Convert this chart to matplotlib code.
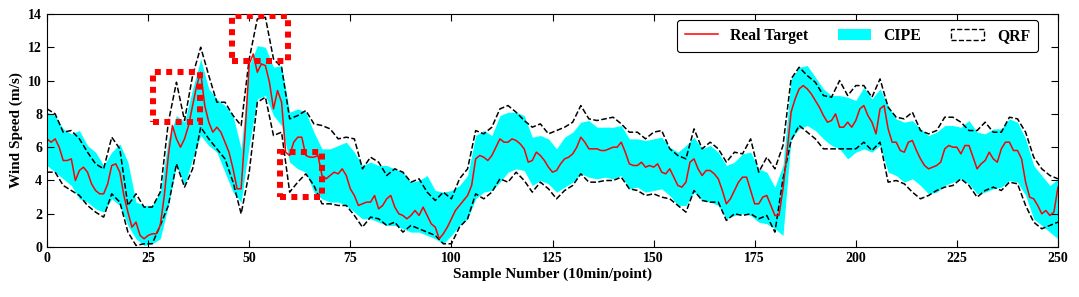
import matplotlib
matplotlib.use("Agg")
import matplotlib.pyplot as plt
from matplotlib.patches import Patch, Rectangle
from matplotlib.lines import Line2D
import numpy as np

plt.rcParams['font.family'] = ['Liberation Serif', 'DejaVu Serif']
plt.rcParams['font.weight'] = 'bold'

# real target, one value per sample (0..250)
real = [6.5, 6.3, 6.5, 6.0, 5.2, 5.2, 5.3, 4.0, 4.6, 4.8,
        4.5, 3.8, 3.4, 3.2, 3.2, 3.8, 4.9, 5.0, 4.5, 3.1,
        2.1, 1.2, 1.5, 0.7, 0.5, 0.7, 0.8, 0.8, 1.3, 3.1,
        5.5, 7.3, 6.5, 6.0, 6.5, 7.3, 8.5, 9.7, 10.5, 8.5,
        7.5, 6.9, 7.2, 6.9, 6.3, 5.7, 4.7, 3.5, 3.5, 7.0,
        11.0, 11.6, 10.5, 11.0, 10.9, 9.9, 8.3, 9.4, 8.7, 5.7,
        5.5, 6.3, 6.6, 6.6, 5.5, 5.4, 5.4, 5.5, 4.3, 4.1,
        4.3, 4.5, 4.4, 4.7, 4.3, 3.5, 3.1, 2.5, 2.6, 2.7,
        2.7, 3.1, 2.3, 2.5, 2.9, 3.1, 2.4, 2.0, 1.9, 1.7,
        1.9, 2.2, 1.9, 2.4, 1.9, 1.4, 1.2, 0.5, 0.8, 1.2,
        1.7, 2.2, 2.5, 2.8, 3.1, 3.7, 5.3, 5.5, 5.4, 5.2,
        5.5, 6.0, 6.5, 6.3, 6.3, 6.5, 6.4, 6.2, 5.9, 5.1,
        5.2, 5.7, 5.5, 5.2, 4.8, 4.5, 4.6, 5.0, 5.3, 5.4,
        5.6, 6.0, 6.6, 6.3, 5.9, 5.9, 5.9, 5.8, 5.8, 5.9,
        6.0, 6.0, 6.3, 5.7, 5.0, 4.9, 4.9, 5.1, 4.8, 4.9,
        4.8, 5.0, 4.5, 4.4, 4.7, 4.2, 3.7, 3.6, 3.9, 5.1,
        5.3, 4.7, 4.3, 4.6, 4.6, 4.4, 4.1, 3.4, 2.6, 2.9,
        3.4, 3.9, 4.2, 4.2, 3.4, 2.6, 2.6, 3.0, 3.1, 2.5,
        1.9, 1.9, 3.5, 5.7, 8.1, 8.9, 9.5, 9.7, 9.5, 9.2,
        8.8, 8.4, 7.9, 7.5, 7.6, 8.0, 7.2, 7.2, 7.5, 7.2,
        7.6, 8.3, 8.5, 7.9, 7.5, 6.8, 8.3, 8.5, 7.1, 6.3,
        6.3, 5.8, 5.7, 6.3, 6.4, 5.8, 5.3, 4.9, 4.7, 4.8,
        4.9, 5.1, 5.9, 6.1, 6.0, 6.0, 5.6, 6.1, 6.1, 5.4,
        4.7, 5.0, 5.2, 5.7, 5.3, 5.1, 5.9, 6.3, 6.3, 5.8,
        5.8, 5.3, 3.9, 3.0, 2.9, 2.5, 2.0, 2.2, 1.9, 2.1,
        3.6]

# interval bounds, read every 2nd sample (0, 2, ..., 250)
cipe_hi = [8.1, 7.9, 7.1, 6.8, 7.0, 6.1, 5.7, 4.9, 5.7, 6.2,
           5.1, 2.7, 2.5, 2.5, 3.3, 6.5, 7.9, 7.5, 9.5, 11.3,
           9.5, 8.9, 8.5, 7.9, 5.9, 10.9, 12.1, 12.0, 10.8, 10.9,
           8.1, 8.3, 8.1, 6.9, 5.9, 5.9, 6.1, 6.3, 5.7, 4.9,
           5.1, 4.9, 4.9, 4.7, 4.5, 3.9, 4.0, 4.3, 3.4, 3.3,
           3.4, 3.7, 4.3, 6.7, 7.0, 6.7, 7.9, 8.1, 8.1, 7.9,
           6.6, 6.7, 6.5, 5.9, 6.6, 6.9, 7.5, 7.6, 7.2, 7.2,
           7.2, 7.3, 6.5, 6.5, 6.4, 6.5, 6.6, 6.0, 5.7, 6.1,
           6.6, 5.9, 6.1, 5.7, 4.9, 5.1, 5.6, 5.7, 4.7, 4.5,
           3.6, 4.9, 10.1, 10.8, 10.9, 10.2, 9.5, 9.1, 9.1, 9.0,
           8.8, 9.6, 8.9, 9.5, 8.5, 7.7, 7.5, 7.6, 7.1, 6.7,
           6.9, 7.3, 7.3, 7.2, 7.6, 6.9, 6.8, 7.1, 7.1, 7.7,
           7.5, 6.5, 4.9, 4.3, 3.7, 4.1]
cipe_lo = [4.9, 4.5, 4.1, 3.7, 2.9, 2.7, 2.3, 2.1, 2.9, 2.5,
           1.3, 0.5, 0.1, 0.2, 0.5, 2.5, 4.9, 3.7, 5.3, 6.7,
           6.1, 5.7, 4.5, 3.3, 2.7, 6.1, 8.9, 9.1, 7.9, 7.3,
           5.1, 4.7, 4.5, 3.3, 2.9, 2.7, 2.7, 2.5, 2.1, 1.7,
           1.7, 1.5, 1.3, 1.3, 1.1, 0.9, 0.9, 0.7, 0.5, 0.2,
           0.7, 1.3, 1.7, 2.9, 3.3, 3.4, 3.9, 4.5, 4.7, 4.6,
           3.7, 4.0, 3.8, 3.3, 3.6, 3.9, 4.4, 4.2, 4.1, 4.2,
           4.1, 4.3, 3.5, 3.6, 3.3, 3.4, 3.5, 3.1, 2.5, 2.5,
           3.3, 2.8, 2.7, 2.5, 1.7, 1.9, 2.0, 1.9, 1.5, 1.4,
           1.1, 0.7, 6.5, 7.1, 7.3, 7.0, 6.5, 6.1, 5.9, 5.3,
           5.7, 5.9, 5.7, 6.1, 4.5, 4.3, 3.9, 4.1, 3.7, 3.2,
           3.3, 3.7, 3.9, 4.1, 3.8, 3.2, 3.3, 3.5, 3.6, 4.0,
           3.9, 3.1, 1.7, 1.3, 0.9, 0.5]
qrf_hi = [8.3, 8.0, 6.9, 7.0, 6.5, 5.7, 5.0, 4.7, 6.6, 5.9,
          2.5, 3.2, 2.4, 2.4, 3.3, 7.5, 9.9, 7.6, 10.3, 12.0,
          10.3, 8.7, 8.7, 7.9, 7.3, 11.3, 13.7, 13.8, 11.3, 10.8,
          7.7, 7.9, 8.2, 7.4, 7.3, 7.1, 6.5, 6.6, 6.5, 4.7,
          5.4, 5.1, 4.3, 4.7, 4.5, 3.9, 4.1, 3.3, 2.8, 3.3,
          2.9, 4.1, 4.7, 7.0, 6.8, 7.2, 8.3, 8.5, 8.1, 7.6,
          7.2, 7.4, 6.8, 7.0, 7.2, 7.5, 8.5, 7.7, 7.6, 7.7,
          7.8, 7.4, 6.9, 6.9, 6.5, 6.9, 7.0, 5.9, 5.5, 5.3,
          7.1, 5.9, 6.3, 5.9, 5.1, 5.7, 5.6, 6.5, 4.5, 5.4,
          4.7, 6.1, 10.1, 10.8, 10.3, 9.9, 9.1, 9.0, 10.0, 9.1,
          9.7, 9.7, 9.0, 10.1, 8.4, 7.8, 7.7, 8.1, 7.0, 6.8,
          7.0, 7.8, 7.8, 7.5, 7.0, 7.0, 7.5, 6.9, 6.9, 7.8,
          7.7, 6.9, 5.4, 4.7, 4.3, 4.1]
qrf_lo = [4.5, 4.5, 3.7, 3.4, 3.1, 2.5, 2.1, 1.8, 3.2, 2.7,
          0.9, 0.1, 0.2, 0.2, 1.3, 2.5, 5.0, 3.6, 4.7, 7.2,
          6.5, 5.9, 5.3, 3.9, 2.0, 4.5, 8.7, 9.0, 6.7, 6.9,
          3.3, 3.9, 4.4, 3.7, 2.6, 2.6, 2.5, 2.5, 1.9, 1.2,
          1.8, 1.7, 1.3, 1.5, 0.9, 1.3, 1.1, 0.9, 0.7, 0.2,
          0.2, 1.2, 1.7, 3.2, 2.9, 3.3, 4.1, 3.9, 4.5, 4.0,
          3.3, 3.9, 3.5, 2.9, 3.4, 3.7, 4.4, 3.9, 3.9, 4.0,
          4.0, 4.2, 3.5, 3.4, 3.1, 3.2, 3.0, 2.9, 2.5, 2.1,
          3.4, 2.8, 2.7, 2.7, 1.6, 2.0, 1.9, 2.0, 1.7, 1.9,
          0.9, 4.1, 6.4, 7.3, 6.9, 6.5, 5.9, 5.9, 5.9, 5.9,
          5.9, 6.3, 5.8, 6.3, 3.9, 4.0, 3.8, 3.3, 2.9, 3.1,
          3.4, 3.6, 3.7, 4.1, 3.7, 3.0, 3.4, 3.6, 3.4, 3.9,
          3.8, 2.5, 1.5, 1.1, 1.3, 1.5]

# highlighted regions: (x0, x1, y0, y1)
boxes = [(26.2, 37.8, 7.5, 10.5), (45.7, 59.6, 11.2, 13.9), (57.6, 68.0, 3.0, 5.7)]

x = np.arange(len(real))
x2 = np.arange(0, 251, 2)

fig = plt.figure(figsize=(10.79, 2.97), dpi=100)
ax = fig.add_axes([0.0436, 0.168, 0.9369, 0.785])

ax.fill_between(x2, cipe_lo, cipe_hi, color='cyan', linewidth=0)
ax.plot(x2, qrf_hi, 'k--', linewidth=1.1)
ax.plot(x2, qrf_lo, 'k--', linewidth=1.1)
ax.plot(x, real, color='red', linewidth=1.1)

for b in boxes:
    r = Rectangle((b[0], b[2]), b[1] - b[0], b[3] - b[2], fill=False,
                  edgecolor='red', linewidth=4.3, linestyle=(0, (1, 0.9)),
                  capstyle='butt', zorder=5)
    ax.add_patch(r)

ax.set_xlim(0, 250)
ax.set_ylim(0, 14)
ax.set_xticks(range(0, 251, 25))
ax.set_yticks(range(0, 15, 2))
ax.tick_params(direction='in', top=True, right=True, labelsize=10, length=5)
for lb in ax.get_xticklabels() + ax.get_yticklabels():
    lb.set_fontweight('bold')
ax.set_xlabel('Sample Number (10min/point)', fontsize=11, fontweight='bold', labelpad=2)
ax.set_ylabel('Wind Speed (m/s)', fontsize=11, fontweight='bold', labelpad=4)

handles = [Line2D([0], [0], color='red', linewidth=1.1),
           Patch(facecolor='cyan', edgecolor='none'),
           Patch(facecolor='white', edgecolor='black', linestyle='--', linewidth=1)]
leg = ax.legend(handles, ['Real Target', 'CIPE', 'QRF'], loc='upper right', ncol=3,
                prop={'weight': 'bold', 'size': 11.3}, handlelength=2.1,
                columnspacing=1.9, handletextpad=0.8, borderpad=0.5,
                borderaxespad=0, fancybox=True, framealpha=1, edgecolor='black',
                bbox_to_anchor=(0.980, 0.974))
leg.get_frame().set_linewidth(0.8)

fig.savefig('out.png', dpi=100)
